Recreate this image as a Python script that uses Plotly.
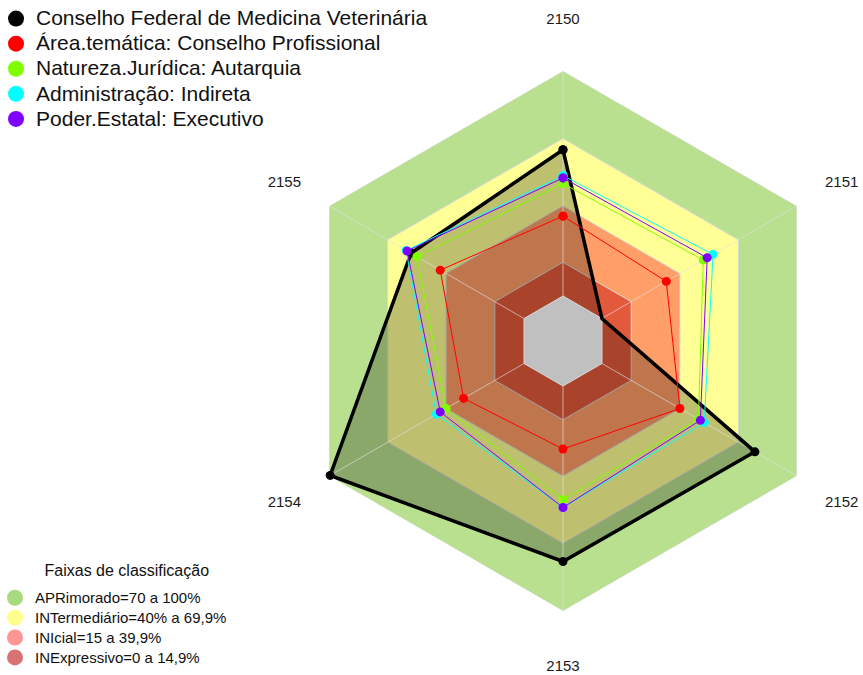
import plotly.graph_objects as go

categories = ["2150", "2151", "2152", "2153", "2154", "2155"]

series_names = [
    "Conselho Federal de Medicina Veterinária",
    "Área.temática: Conselho Profissional",
    "Natureza.Jurídica: Autarquia",
    "Administração: Indireta",
    "Poder.Estatal: Executivo",
]
conselho = [65, 0, 78.5, 78, 99.5, 58]
area_tematica = [35.5, 33, 40, 28, 31, 43]
natureza = [50, 52, 49.5, 50.5, 40, 55]
administracao = [53.5, 57, 52.5, 54, 45, 60.5]
poder = [52.5, 54, 50.5, 54, 43, 60]
series_values = [conselho, area_tematica, natureza, administracao, poder]
series_colors = ["#000000", "#FF0000", "#80FF00", "#00FFFF", "#8000FF"]

band_names = [
    "APRimorado=70 a 100%",
    "INTermediário=40% a 69,9%",
    "INIcial=15 a 39,9%",
    "INExpressivo=0 a 14,9%",
]
band_tops = [100, 70, 40, 15]
band_fill = ["#B9E08E", "#FFFF96", "#FF9E66", "#E25A3B"]
band_legend = ["#AADA7E", "#FFFF8C", "#FF9696", "#D77373"]

radial_min = -20
FONT = "Arial, Liberation Sans, sans-serif"
BLANK = "&nbsp;"

# labels: side labels on the main polar, top & bottom on an overlay polar
upper_side = ["2151", "2155"]
lower_side = ["2152", "2154"]
vertical = ["2150", "2153"]


def side_label(c):
    if c in upper_side:
        return '<sup><span style="font-size:15px">%s</span></sup>' % c
    if c in lower_side:
        return '<sub><span style="font-size:15px">%s</span></sub>' % c
    return BLANK


side_text = [side_label(c) for c in categories]
vert_text = [c if c in vertical else BLANK for c in categories]

fig = go.Figure()

closed_theta = categories + categories[:1]

# classification bands
for top, col in zip(band_tops, band_fill):
    fig.add_trace(go.Scatterpolar(
        r=[top] * (len(categories) + 1), theta=closed_theta,
        mode="lines", fill="toself", fillcolor=col,
        line=dict(color="#D8D8D8", width=1),
        showlegend=False, hoverinfo="skip"))

# fill of the main series
fig.add_trace(go.Scatterpolar(
    r=conselho + conselho[:1], theta=closed_theta,
    mode="lines", fill="toself", fillcolor="rgba(0,0,0,0.25)",
    line=dict(width=0, color="rgba(0,0,0,0)"),
    showlegend=False, hoverinfo="skip"))

# gray centre (below zero)
fig.add_trace(go.Scatterpolar(
    r=[0] * (len(categories) + 1), theta=closed_theta,
    mode="lines", fill="toself", fillcolor="#C0C0C0",
    line=dict(color="#D8D8D8", width=1),
    showlegend=False, hoverinfo="skip"))

# spokes
sp_r, sp_t = [], []
for c in categories:
    sp_r += [0, band_tops[0], None]
    sp_t += [c, c, None]
fig.add_trace(go.Scatterpolar(
    r=sp_r, theta=sp_t, mode="lines",
    line=dict(color="rgba(225,225,225,0.65)", width=1),
    showlegend=False, hoverinfo="skip"))

# series lines
for name, vals, col in zip(series_names, series_values, series_colors):
    w = 3.5 if col == "#000000" else 1
    fig.add_trace(go.Scatterpolar(
        r=vals + vals[:1], theta=closed_theta, mode="lines+markers",
        line=dict(color=col, width=w),
        marker=dict(color=col, size=9),
        name=name, showlegend=False))

# invisible trace that sets up the overlay polar's category axis
fig.add_trace(go.Scatterpolar(
    r=[0] * len(categories), theta=categories, subplot="polar2",
    mode="lines", line=dict(width=0, color="rgba(0,0,0,0)"),
    showlegend=False, hoverinfo="skip"))

# legend entries: series
for name, col in zip(series_names, series_colors):
    fig.add_trace(go.Scatterpolar(
        r=[None], theta=[None], mode="markers",
        marker=dict(color=col, size=16),
        name='<span style="font-size:21px">' + name + "</span>",
        legend="legend", showlegend=True))

# legend entries: bands
for name, col in zip(band_names, band_legend):
    fig.add_trace(go.Scatterpolar(
        r=[None], theta=[None], mode="markers",
        marker=dict(color=col, size=16),
        name='<span style="font-size:15px">' + name + "</span>",
        legend="legend2", showlegend=True))

W, H = 863, 675
cx, cy, R = 563, 341, 270
domain = dict(x=[(cx - R) / W, (cx + R) / W],
              y=[1 - (cy + R) / H, 1 - (cy - R) / H])


def polar_cfg(texts, ticklen, bg):
    return dict(
        domain=domain, bgcolor=bg, gridshape="linear",
        radialaxis=dict(visible=False, range=[radial_min, 100]),
        angularaxis=dict(
            type="category",
            direction="clockwise", rotation=90,
            categoryorder="array", categoryarray=categories,
            tickmode="array", tickvals=categories, ticktext=texts,
            showline=False, showgrid=False,
            ticks="outside", ticklen=ticklen, tickcolor="rgba(0,0,0,0)",
            tickfont=dict(size=15, color="#1A1A1A", family=FONT)),
    )


fig.update_layout(
    width=W, height=H,
    margin=dict(l=0, r=0, t=0, b=0, autoexpand=False),
    paper_bgcolor="white",
    font=dict(family=FONT, color="#000000"),
    polar=polar_cfg(side_text, 29, "white"),
    polar2=polar_cfg(vert_text, 41, "rgba(0,0,0,0)"),
    legend=dict(
        x=-0.0046, y=0.9985, xanchor="left", yanchor="top",
        font=dict(size=17, family=FONT, color="#111111"),
        bgcolor="rgba(0,0,0,0)", itemsizing="trace",
        tracegroupgap=0),
    legend2=dict(
        x=-0.0058, y=0.003, xanchor="left", yanchor="bottom",
        title=dict(text='<sup><span style="font-size:16px">'
                        '&nbsp;&nbsp;&nbsp;&nbsp;&nbsp;&nbsp;'
                        'Faixas de classificação</span></sup>',
                   side="top center",
                   font=dict(size=16, family=FONT, color="#111111")),
        font=dict(size=13, family=FONT, color="#111111"),
        bgcolor="rgba(0,0,0,0)", itemsizing="trace",
        tracegroupgap=0),
)

fig.write_html("out.html", config={"displayModeBar": False},
               post_script="document.body.style.margin='0px';")
